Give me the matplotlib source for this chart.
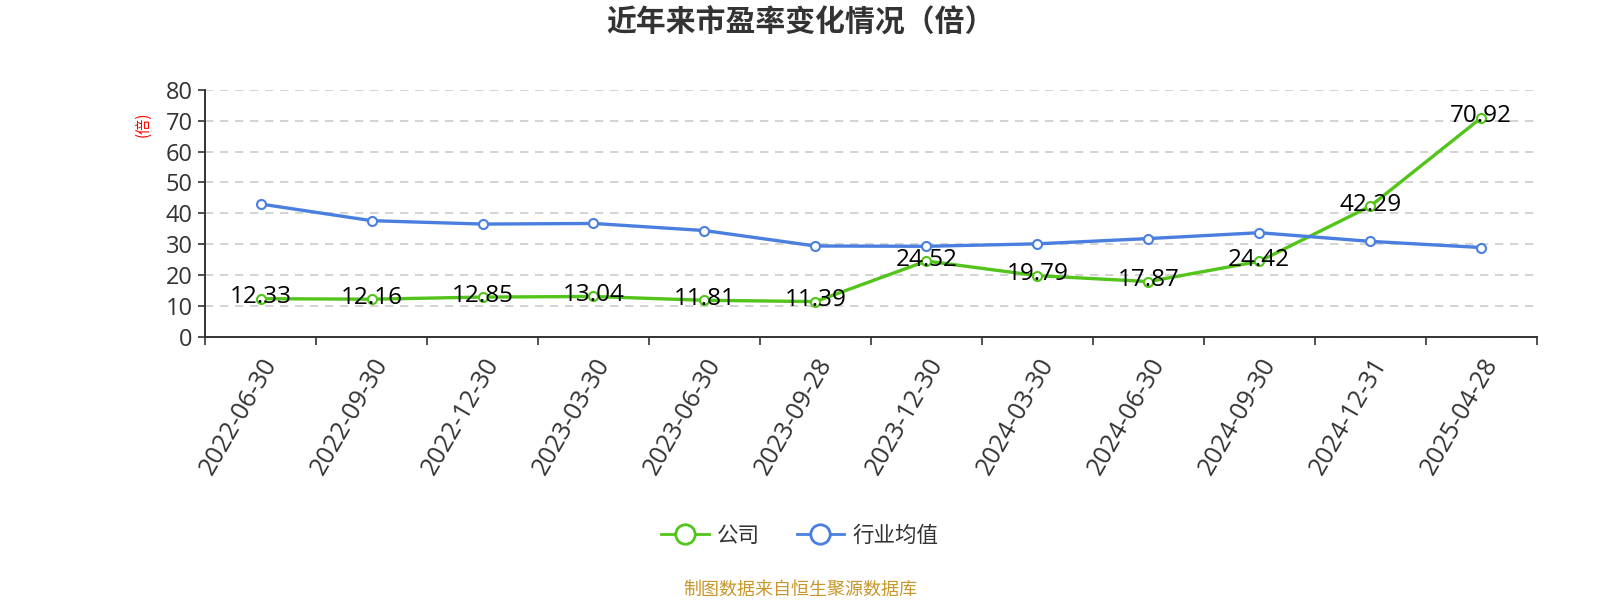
import matplotlib
matplotlib.use("Agg")
import matplotlib.pyplot as plt
from matplotlib.lines import Line2D

plt.rcParams['font.family'] = ['Open Sans', 'Noto Sans CJK SC', 'DejaVu Sans']
cjk = ['Noto Sans CJK SC', 'DejaVu Sans']

dates = ["2022-06-30", "2022-09-30", "2022-12-30", "2023-03-30", "2023-06-30", "2023-09-28",
         "2023-12-30", "2024-03-30", "2024-06-30", "2024-09-30", "2024-12-31", "2025-04-28"]
company = [12.33, 12.16, 12.85, 13.04, 11.81, 11.39, 24.52, 19.79, 17.87, 24.42, 42.29, 70.92]
industry = [43.0, 37.6, 36.5, 36.7, 34.4, 29.4, 29.3, 30.1, 31.8, 33.7, 30.9, 28.9]

title = "近年来市盈率变化情况（倍）"
series_names = ["公司", "行业均值"]
y_unit = "(倍)"
footer = "制图数据来自恒生聚源数据库"

green = "#52c41a"
blue = "#4a7fe0"
axis_c = "#333333"

W, H = 1568, 588
fig = plt.figure(figsize=(16, 6), dpi=100)
ax = fig.add_axes([201 / W, 1 - 330 / H, (1506 - 201) / W, (330 - 88) / H])

x = list(range(len(dates)))
ax.plot(x, company, color=green, lw=2.4, marker='o', ms=6.5, mfc='white', mec=green, mew=1.5, zorder=3)
ax.plot(x, industry, color=blue, lw=2.4, marker='o', ms=6.5, mfc='white', mec=blue, mew=1.5, zorder=3)

for xi, v in zip(x, company):
    ax.annotate(f"{v:.2f}", (xi, v), xytext=(0, 1), textcoords='offset points',
                ha='center', va='center', fontsize=17.5, color='black', zorder=4)

ax.set_xlim(-0.5, len(dates) - 0.5)
ax.set_ylim(0, 80)
ax.set_yticks(range(0, 81, 10))
ax.tick_params(axis='y', labelsize=17, colors=axis_c, length=5, width=1.2, pad=4)
ax.set_xticks(x)
ax.set_xticklabels(dates, rotation=60, ha='right', rotation_mode='anchor', fontsize=18, color=axis_c)
ax.tick_params(axis='x', which='major', length=0, pad=12)
ax.set_xticks([i - 0.5 for i in range(len(dates) + 1)], minor=True)
ax.tick_params(axis='x', which='minor', length=6, width=1.2, color=axis_c)

ax.grid(axis='y', color='#cccccc', linestyle=(0, (5, 4)), lw=1.2)
ax.set_axisbelow(True)
for s in ['top', 'right']:
    ax.spines[s].set_visible(False)
for s in ['left', 'bottom']:
    ax.spines[s].set_color(axis_c)
    ax.spines[s].set_linewidth(1.4)

fig.text(140 / W, 1 - 122 / H, y_unit, rotation=90, color='red', fontsize=11, ha='center', va='center', family=cjk)
fig.text(0.5, 1 - 22 / H, title, ha='center', va='center', fontsize=21.5, fontweight='bold', color='#333333', family=cjk)
fig.text(0.5, 1 - 578 / H, footer, ha='center', va='center', fontsize=13, color='#c8962a', family=cjk)

handles = [Line2D([0], [0], color=green, lw=2, marker='o', ms=14, mfc='white', mec=green, mew=2),
           Line2D([0], [0], color=blue, lw=2, marker='o', ms=14, mfc='white', mec=blue, mew=2)]
leg = fig.legend(handles, series_names, loc='center', bbox_to_anchor=(0.5, 1 - 525 / H), ncol=2,
                 frameon=False, prop={'family': cjk, 'size': 15.5}, handlelength=2.2, columnspacing=1.7,
                 handletextpad=0.4)
for t in leg.get_texts():
    t.set_color('#333333')

fig.savefig("out.png", dpi=100)
